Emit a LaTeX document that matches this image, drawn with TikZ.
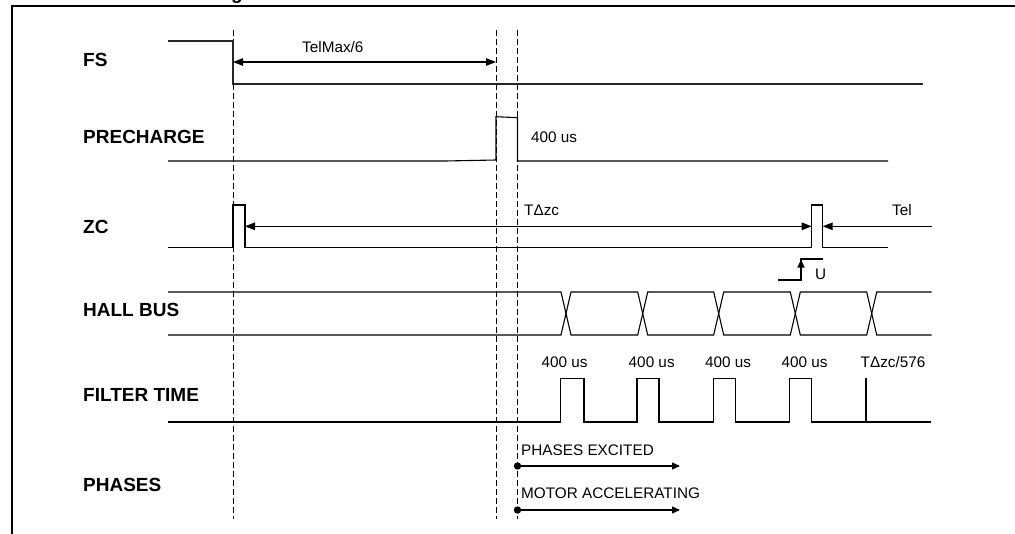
\documentclass[tikz,border=0pt]{standalone}
\usepackage{fontspec}
\setmainfont{Liberation Sans}
\usetikzlibrary{arrows.meta}
\begin{document}
\begin{tikzpicture}[x=1pt,y=-1pt,
  sig/.style={line width=1.1pt, line join=miter},
  guide/.style={line width=0.9pt, dash pattern=on 5.5pt off 3.5pt},
  frame/.style={line width=2pt},
  lbl/.style={font=\fontsize{19}{22}\selectfont\bfseries, anchor=base west, inner sep=0pt},
  note/.style={font=\fontsize{15.3}{18}\selectfont, anchor=base west, inner sep=0pt},
  dim/.style={line width=1.1pt, {Triangle[length=10pt,width=7.5pt]}-{Triangle[length=10pt,width=7.5pt]}},
  onearrow/.style={line width=1.1pt, -{Triangle[length=10pt,width=7.5pt]}},
  small/.style={line width=1.1pt, -{Triangle[length=8pt,width=7pt]}}
]
\useasboundingbox (0,0) rectangle (1015,533);

% cut-off title fragment and frame
\node[lbl] (title) at (231,-1) {g};
\draw[frame] (12,534) -- (12,6) -- (1016,6);

% signal labels
\node[lbl] (lfs) at (83,66.5) {FS};
\node[lbl] (lpre) at (83,143) {PRECHARGE};
\node[lbl] (lzc) at (83,233) {ZC};
\node[lbl] (lhall) at (83,316) {HALL BUS};
\node[lbl] (lfilt) at (83,401) {FILTER TIME};
\node[lbl] (lph) at (83,491) {PHASES};

% dashed guide lines
\coordinate (g1t) at (233,30);  \coordinate (g1b) at (233,519);
\coordinate (g2t) at (496,30);  \coordinate (g2b) at (496,519);
\coordinate (g3t) at (517.5,30); \coordinate (g3b) at (517.5,519);
\draw[guide] (g1t) -- (g1b);
\draw[guide] (g2t) -- (g2b);
\draw[guide] (g3t) -- (g3b);

% FS
\draw[sig, line width=1.3pt, black!85] (168,41) -- (233,41) -- (233,84) -- (923,84);
\coordinate (tm1) at (233,62); \coordinate (tm2) at (496,62);
\draw[dim] (tm1) -- (tm2);
\node[note] (ttm) at (302,52) {TelMax/6};

% PRECHARGE
\draw[sig] (168,161) -- (445,161) -- (496,160) -- (496,116.7) -- (517.5,117.7) -- (517.5,161) -- (888,161);
\node[note] (tpre) at (531,142.7) {400 us};

% ZC
\draw[sig] (168,247.5) -- (233,247.5) -- (233,205) -- (245,205) -- (245,247.5) -- (811.7,247.5)
  -- (811.7,205) -- (822.7,205) -- (822.7,247.5) -- (888,247.5);
\coordinate (dz1) at (245,226.3); \coordinate (dz2) at (811.7,226.3);
\draw[dim] (dz1) -- (dz2);
\node[note] (tdz) at (524,215.5) {TΔzc};
\coordinate (tel1) at (931.7,226.3); \coordinate (tel2) at (822.7,226.3);
\draw[onearrow] (tel1) -- (tel2);
\node[note] (ttel) at (892,215) {Tel};

% U marker
\draw[sig] (778,280) -- (801,280) -- (801,259) -- (823,259);
\coordinate (u1) at (801,272); \coordinate (u2) at (801,259.5);
\draw[small] (u1) -- (u2);
\node[note] (tu) at (815,279) {U};

% HALL BUS
\draw[sig] (168,292) -- (561,292) -- (571,335) -- (637.7,335) -- (647.7,292) -- (713.7,292)
  -- (723.7,335) -- (790.3,335) -- (800.3,292) -- (866.7,292) -- (876.7,335) -- (931.7,335);
\draw[sig] (168,335) -- (561,335) -- (571,292) -- (637.7,292) -- (647.7,335) -- (713.7,335)
  -- (723.7,292) -- (790.3,292) -- (800.3,335) -- (866.7,335) -- (876.7,292) -- (931.7,292);

% FILTER TIME
\draw[sig] (168,422) -- (560.7,422) -- (560.7,378.3) -- (584,378.3) -- (584,422)
  -- (637,422) -- (637,378.3) -- (659,378.3) -- (659,422)
  -- (713.3,422) -- (713.3,378.3) -- (735.3,378.3) -- (735.3,422)
  -- (789.7,422) -- (789.7,378.3) -- (811.7,378.3) -- (811.7,422) -- (931,422);
\draw[sig] (866,378.3) -- (866,422);
\node[note, anchor=base] (tf1) at (564.5,367.3) {400 us};
\node[note, anchor=base] (tf2) at (651.7,367.3) {400 us};
\node[note, anchor=base] (tf3) at (728,367.3) {400 us};
\node[note, anchor=base] (tf4) at (804.5,367.3) {400 us};
\node[note, anchor=base] (tf5) at (893,367.3) {TΔzc/576};

% PHASES
\coordinate (p1s) at (517.5,466); \coordinate (p1e) at (680,466);
\coordinate (p2s) at (517.5,510); \coordinate (p2e) at (680,510);
\fill (p1s) circle (3.7);
\fill (p2s) circle (3.7);
\draw[small] (p1s) -- (p1e);
\draw[small] (p2s) -- (p2e);
\node[note] (tp1) at (521,455) {PHASES EXCITED};
\node[note] (tp2) at (521,498.3) {MOTOR ACCELERATING};
\end{tikzpicture}
\end{document}
